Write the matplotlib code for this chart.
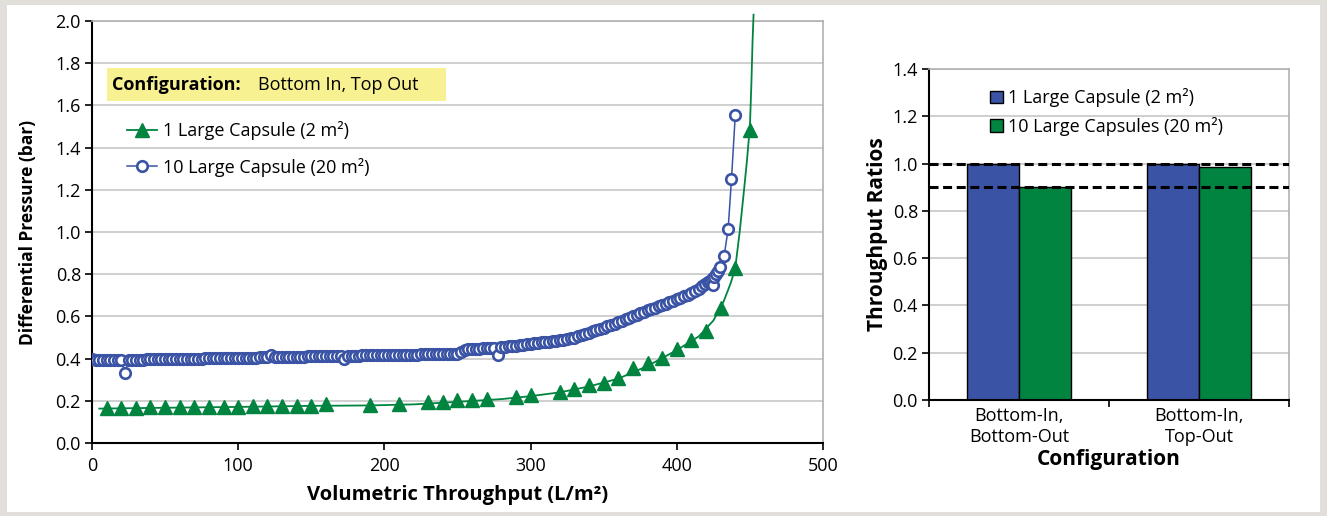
import matplotlib
matplotlib.use("Agg")
import matplotlib.pyplot as plt
from matplotlib.patches import Rectangle
from matplotlib.lines import Line2D

# ---------------- data ----------------
# 1 Large Capsule (2 m2): measured points
small_x = [10, 20, 30, 40, 50, 60, 70, 80, 90, 100, 110, 120, 130, 140, 150, 160,
           190, 210, 230, 240, 250, 260, 270, 290, 300, 320, 330, 340, 350, 360,
           370, 380, 390, 400, 410, 420, 430, 440, 450]
small_y = [0.168, 0.168, 0.168, 0.169, 0.169, 0.170, 0.170, 0.171, 0.171, 0.172,
           0.173, 0.173, 0.174, 0.175, 0.176, 0.184, 0.180, 0.184, 0.192, 0.196,
           0.202, 0.206, 0.210, 0.218, 0.226, 0.240, 0.256, 0.273, 0.286, 0.310,
           0.354, 0.380, 0.405, 0.447, 0.487, 0.530, 0.640, 0.829, 1.485]

# 1 Large Capsule: smooth fitted curve drawn through the points
fit_x = [5, 50, 100, 150, 190, 220, 250, 280, 300, 320, 340, 360, 380, 400, 415,
         425, 432, 437, 440, 443, 446, 448, 450, 451, 451.8, 452.5]
fit_y = [0.163, 0.167, 0.171, 0.176, 0.178, 0.183, 0.195, 0.208, 0.222, 0.240,
         0.268, 0.305, 0.365, 0.440, 0.505, 0.580, 0.670, 0.760, 0.830, 1.000,
         1.200, 1.340, 1.500, 1.700, 1.900, 2.030]

# 10 Large Capsule (20 m2)
large_x = [0, 2.5, 5, 7.5, 10, 12.5, 15, 17.5, 20, 22.5, 25, 27.5, 30, 32.5, 35,
           37.5, 40, 42.5, 45, 47.5, 50, 52.5, 55, 57.5, 60, 62.5, 65, 67.5, 70,
           72.5, 75, 77.5, 80, 82.5, 85, 87.5, 90, 92.5, 95, 97.5, 100, 102.5, 105,
           107.5, 110, 112.5, 115, 117.5, 120, 122.5, 125, 127.5, 130, 132.5, 135,
           137.5, 140, 142.5, 145, 147.5, 150, 152.5, 155, 157.5, 160, 162.5, 165,
           167.5, 170, 172.5, 175, 177.5, 180, 182.5, 185, 187.5, 190, 192.5, 195,
           197.5, 200, 202.5, 205, 207.5, 210, 212.5, 215, 217.5, 220, 222.5, 225,
           227.5, 230, 232.5, 235, 237.5, 240, 242.5, 245, 247.5, 250, 252.5, 255,
           257.5, 260, 262.5, 265, 267.5, 270, 272.5, 275, 277.5, 280, 282.5, 285,
           287.5, 290, 292.5, 295, 297.5, 300, 302.5, 305, 307.5, 310, 312.5, 315,
           317.5, 320, 322.5, 325, 327.5, 330, 332.5, 335, 337.5, 340, 342.5, 345,
           347.5, 350, 352.5, 355, 357.5, 360, 362.5, 365, 367.5, 370, 372.5, 375,
           377.5, 380, 382.5, 385, 387.5, 390, 392.5, 395, 397.5, 400, 402.5, 405,
           407.5, 410, 412.5, 415, 417.5, 419, 421, 422.5, 424, 425.1, 425.5, 427,
           428, 429.4, 432.4, 435.1, 437.4, 440]
large_y = [0.400, 0.394, 0.392, 0.392, 0.392, 0.392, 0.393, 0.393, 0.393, 0.330,
           0.394, 0.394, 0.395, 0.395, 0.395, 0.396, 0.396, 0.396, 0.397, 0.397,
           0.397, 0.398, 0.398, 0.398, 0.399, 0.399, 0.399, 0.399, 0.400, 0.400,
           0.400, 0.401, 0.401, 0.401, 0.402, 0.402, 0.402, 0.403, 0.403, 0.403,
           0.404, 0.404, 0.404, 0.405, 0.405, 0.405, 0.406, 0.406, 0.406, 0.415,
           0.407, 0.407, 0.407, 0.408, 0.408, 0.408, 0.409, 0.409, 0.409, 0.410,
           0.410, 0.410, 0.411, 0.411, 0.411, 0.412, 0.412, 0.412, 0.413, 0.398,
           0.413, 0.414, 0.414, 0.414, 0.415, 0.415, 0.415, 0.416, 0.416, 0.416,
           0.417, 0.417, 0.417, 0.418, 0.418, 0.418, 0.418, 0.419, 0.419, 0.419,
           0.420, 0.420, 0.420, 0.421, 0.421, 0.421, 0.422, 0.422, 0.422, 0.423,
           0.423, 0.430, 0.440, 0.444, 0.446, 0.447, 0.447, 0.448, 0.449, 0.450,
           0.451, 0.415, 0.454, 0.456, 0.458, 0.460, 0.462, 0.464, 0.466, 0.468,
           0.471, 0.473, 0.475, 0.477, 0.479, 0.481, 0.483, 0.485, 0.487, 0.489,
           0.492, 0.496, 0.500, 0.505, 0.511, 0.517, 0.523, 0.529, 0.535, 0.541,
           0.547, 0.553, 0.560, 0.566, 0.573, 0.580, 0.587, 0.594, 0.601, 0.608,
           0.614, 0.621, 0.628, 0.634, 0.641, 0.647, 0.654, 0.660, 0.667, 0.674,
           0.681, 0.688, 0.695, 0.703, 0.712, 0.721, 0.732, 0.745, 0.752, 0.762,
           0.768, 0.778, 0.750, 0.789, 0.800, 0.813, 0.836, 0.888, 1.013, 1.249,
           1.556]

# Throughput ratios
configs = ["Bottom-In,\nBottom-Out", "Bottom-In,\nTop-Out"]
ratio_one = [1.0, 1.0]
ratio_ten = [0.90, 0.984]
ref_lines = [1.0, 0.9]

label_one = "1 Large Capsule (2 m\u00b2)"
label_ten_left = "10 Large Capsule (20 m\u00b2)"
label_ten_right = "10 Large Capsules (20 m\u00b2)"

# ---------------- style ----------------
plt.rcParams['font.family'] = ['Open Sans', 'DejaVu Sans']
BLUE = '#3a53a4'
GREEN = '#00843f'
GRID = '#cccccc'
FS = 13

W, H = 1327, 516
fig = plt.figure(figsize=(W / 100, H / 100), dpi=100, facecolor='#e2deda')
fig.add_artist(Rectangle((7 / W, 4 / H), 1313 / W, 507 / H, transform=fig.transFigure,
                         facecolor='white', edgecolor='none', zorder=-10))


def style_axes(ax):
    for s in ['top', 'right']:
        ax.spines[s].set_color('#b0b0b0')
        ax.spines[s].set_linewidth(1.2)
    for s in ['left', 'bottom']:
        ax.spines[s].set_color('black')
        ax.spines[s].set_linewidth(1.5)
    ax.set_axisbelow(True)
    ax.yaxis.grid(True, color=GRID, lw=1.3)
    ax.tick_params(direction='out', length=5, width=1.2, labelsize=FS, pad=3,
                   colors='black')


# ---------------- left chart ----------------
ax1 = fig.add_axes([92 / W, 73 / H, 731 / W, 422 / H])
style_axes(ax1)
ax1.set_xlim(0, 500)
ax1.set_ylim(0, 2.0)
ax1.set_xticks([0, 100, 200, 300, 400, 500])
ax1.set_yticks([i * 0.2 for i in range(11)])
ax1.set_yticklabels([f"{i * 0.2:.1f}" for i in range(11)])
ax1.tick_params(axis='x', pad=5)

ax1.plot(fit_x, fit_y, color=GREEN, lw=1.3, zorder=3, clip_on=False)
ax1.plot(small_x, small_y, ls='none', marker='^', ms=10, color=GREEN, mec=GREEN,
         zorder=4)
ax1.plot(large_x, large_y, color=BLUE, lw=1.1, marker='o', ms=7.6, mfc='white',
         mec=BLUE, mew=1.9, zorder=5)

ax1.set_xlabel("Volumetric Throughput (L/m\u00b2)", fontsize=14.5, fontweight='bold',
               labelpad=7)
ax1.set_ylabel("Differential Pressure (bar)", fontsize=12.5, fontweight='bold',
               labelpad=13)

# configuration box
fig.add_artist(Rectangle((107 / W, 1 - 101 / H), 339 / W, 33 / H,
                         transform=fig.transFigure, facecolor='#f8f191',
                         edgecolor='none', zorder=5))
fig.text(112 / W, 1 - 85 / H, "Configuration:", fontsize=FS, fontweight='bold',
         va='center', ha='left', zorder=6)
fig.text(258 / W, 1 - 85 / H, "Bottom In, Top Out", fontsize=FS, va='center',
         ha='left', zorder=6)

h1 = Line2D([], [], color=GREEN, lw=1.3, marker='^', ms=10, mec=GREEN)
h2 = Line2D([], [], color=BLUE, lw=1.1, marker='o', ms=7.6, mfc='white', mec=BLUE,
            mew=1.9)
leg1 = ax1.legend([h1, h2], [label_one, label_ten_left], loc='center left',
                  bbox_to_anchor=(127 / W, 1 - 149 / H), bbox_transform=fig.transFigure,
                  frameon=False, fontsize=FS, handlelength=1.67, handletextpad=0.35,
                  borderpad=0, borderaxespad=0, labelspacing=0.95, numpoints=1)

# ---------------- right chart ----------------
ax2 = fig.add_axes([929 / W, 116 / H, 360 / W, 331 / H])
style_axes(ax2)
ax2.set_ylim(0, 1.4)
ax2.set_xlim(-0.5, 1.5)
ax2.set_yticks([i * 0.2 for i in range(8)])
ax2.set_yticklabels([f"{i * 0.2:.1f}" for i in range(8)])
bw = 0.289
pos = list(range(len(configs)))
ax2.bar([p - bw / 2 for p in pos], ratio_one, width=bw, color=BLUE, edgecolor='black',
        lw=1.0, label=label_one, zorder=2)
ax2.bar([p + bw / 2 for p in pos], ratio_ten, width=bw, color=GREEN, edgecolor='black',
        lw=1.0, label=label_ten_right, zorder=2)
for v in ref_lines:
    ax2.axhline(v, color='black', lw=2.2, ls=(0, (2.95, 1.5)), zorder=3)
ax2.set_xticks(pos)
ax2.set_xticklabels(configs, fontsize=FS, linespacing=1.25)
ax2.tick_params(axis='x', length=0, pad=5)
ax2.set_xticks([-0.5, 0.5, 1.5], minor=True)
ax2.tick_params(axis='x', which='minor', direction='out', length=5, width=1.2)
ax2.set_xlabel("Configuration", fontsize=15, fontweight='bold', labelpad=2)
ax2.set_ylabel("Throughput Ratios", fontsize=15, fontweight='bold', labelpad=3)
leg2 = ax2.legend(loc='center left', bbox_to_anchor=(990 / W, 1 - 112 / H),
                  bbox_transform=fig.transFigure, frameon=False, fontsize=FS,
                  handlelength=0.7, handleheight=0.7, handletextpad=0.3,
                  borderpad=0, borderaxespad=0, labelspacing=0.5)

fig.savefig("out.png", dpi=100, facecolor=fig.get_facecolor())
